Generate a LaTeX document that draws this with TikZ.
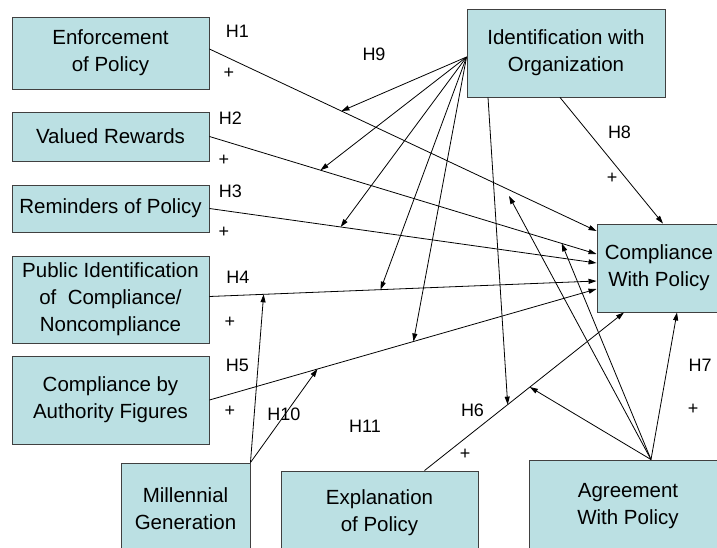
\documentclass[tikz,border=0pt]{standalone}
\usepackage{fontspec}
\setmainfont{Liberation Sans}
\usetikzlibrary{arrows.meta,calc}
\definecolor{boxfill}{RGB}{187,224,227}
\definecolor{boxline}{RGB}{64,64,64}

\begin{document}
\begin{tikzpicture}[x=1pt, y=-1pt,
        factor/.style={draw=boxline, fill=boxfill, line width=0.9pt, align=center, inner sep=0pt,
            font=\fontsize{20.5}{27}\selectfont},
        hyp/.style={inner sep=0pt, font=\fontsize{18}{20}\selectfont},
        >={Triangle[length=8pt, width=5pt]},
        every path/.style={line width=0.8pt}]
            \useasboundingbox (0,0) rectangle (717,548);

            \node[factor, minimum width=197, minimum height=72] (EP) at (110.5,53) {Enforcement\\of Policy};
            \node[factor, minimum width=197, minimum height=49] (VR) at (110.5,136.5) {Valued Rewards};
            \node[factor, minimum width=197, minimum height=47] (RP) at (110.5,208.5) {Reminders of Policy};
            \node[factor, minimum width=197, minimum height=87] (PI) at (110.5,299.5) {Public Identification\\of~ Compliance/\\Noncompliance};
            \node[factor, minimum width=197, minimum height=88] (CA) at (110.5,400) {Compliance by\\Authority Figures};
            \node[factor, minimum width=129, minimum height=92] (MG) at (185.5,509) {Millennial\\Generation};
            \node[factor, minimum width=197, minimum height=84] (EX) at (379.5,513) {Explanation\\of Policy};
            \node[factor, minimum width=198, minimum height=92] (AG) at (628,506) {Agreement\\With Policy};
            \node[factor, minimum width=198, minimum height=88] (IO) at (566,53) {Identification with\\Organization};
            \node[factor, minimum width=124, minimum height=88] (CP) at (659,268) {Compliance\\With Policy};

            % main effects
            \draw[->] ($(EP.east)+(0,-4)$) -- ($(CP.west)+(0,-37)$) coordinate[pos=0.341] (e1);
            \draw[->] (VR.east) -- ($(CP.west)+(0,-14)$) coordinate[pos=0.287] (e2) coordinate[pos=0.91] (g4);
            \draw[->] (RP.east) -- ($(CP.west)+(0,-5)$) coordinate[pos=0.339] (e3);
            \draw[->] ($(PI.east)+(0,-3)$) -- ($(CP.west)+(0,13)$) coordinate[pos=0.442] (e4) coordinate[pos=0.14] (m1);
            \draw[->] (CA.east) -- ($(CP.west)+(0,21)$) coordinate[pos=0.527] (e5) coordinate[pos=0.279] (m2);
            \draw[->] ($(EX.north)+(45,0)$) -- ($(CP.south)+(-35,0)$) coordinate[pos=0.417] (e6) coordinate[pos=0.528] (g2);
            \draw[->] ($(AG.north)+(23,0)$) coordinate (AGtop) -- ($(CP.south)+(18,0)$);
            \draw[->] ($(IO.south)+(-6,0)$) -- ($(CP.north)+(4,0)$);

            % moderators
            \coordinate (g3) at (509,196);
            \foreach \t in {e1,e2,e3,e4,e5}
                \draw[->] ($(IO.west)+(0,4)$) -- (\t);
            \draw[->] ($(IO.south)+(-78,0)$) -- (e6);
            \foreach \t in {g2,g3,g4}
                \draw[->] (AGtop) -- (\t);
            \foreach \t in {m1,m2}
                \draw[->] (MG.north east) -- (\t);

            % labels
            \node[hyp] (H1) at (237.5,31.5) {H1};
            \node[hyp] (P1) at (229,73) {+};
            \node[hyp] (H2) at (230.5,118.5) {H2};
            \node[hyp] (P2) at (224,160) {+};
            \node[hyp] (H3) at (230.5,191.5) {H3};
            \node[hyp] (P3) at (224,232) {+};
            \node[hyp] (H4) at (238,277.5) {H4};
            \node[hyp] (P4) at (230,322) {+};
            \node[hyp] (H5) at (237.5,365.5) {H5};
            \node[hyp] (P5) at (230,411) {+};
            \node[hyp] (H6) at (472.5,410) {H6};
            \node[hyp] (P6) at (465,454) {+};
            \node[hyp] (H7) at (700,365.5) {H7};
            \node[hyp] (P7) at (693,409) {+};
            \node[hyp] (H8) at (619.5,132.5) {H8};
            \node[hyp] (P8) at (612,178) {+};
            \node[hyp] (H9) at (374,54.5) {H9};
            \node[hyp] (H10) at (284,414.5) {H10};
            \node[hyp] (H11) at (365,426.5) {H11};
        \end{tikzpicture}
\end{document}
